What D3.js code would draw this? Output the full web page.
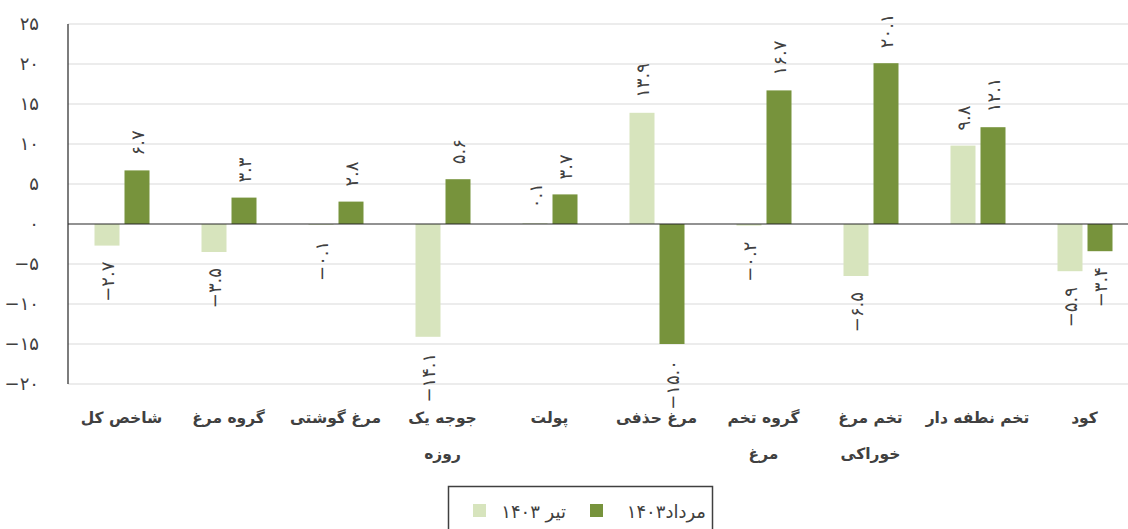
<!DOCTYPE html>
<html>
<head>
<meta charset="utf-8">
<script src="https://cdn.jsdelivr.net/npm/d3@7"></script>
<style>
  html, body { margin: 0; padding: 0; background: #fff; }
  svg { display: block; }
</style>
</head>
<body>
<svg id="chart" width="1128" height="529"></svg>
<script>
// ---------- data ----------
const categories = ["شاخص کل", "گروه مرغ", "مرغ گوشتی", "جوجه یک روزه", "پولت", "مرغ حذفی", "گروه تخم مرغ", "تخم مرغ خوراکی", "تخم نطفه دار", "کود"];
const categoryLines = [["شاخص کل"], ["گروه مرغ"], ["مرغ گوشتی"], ["جوجه یک", "روزه"], ["پولت"], ["مرغ حذفی"], ["گروه تخم", "مرغ"], ["تخم مرغ", "خوراکی"], ["تخم نطفه دار"], ["کود"]];
const seriesNames = ["تیر ۱۴۰۳", "مرداد۱۴۰۳"];
const tir1403 = [-2.7, -3.5, -0.1, -14.1, 0.1, 13.9, -0.2, -6.5, 9.8, -5.9];
const mordad1403 = [6.7, 3.3, 2.8, 5.6, 3.7, -15.0, 16.7, 20.1, 12.1, -3.4];
const yTicks = [-20, -15, -10, -5, 0, 5, 10, 15, 20, 25];
const colors = ["#d7e4bd", "#77933c"];

// ---------- helpers ----------
const faDigits = "۰۱۲۳۴۵۶۷۸۹";
function toFa(str) { return String(str).replace(/[0-9]/g, d => faDigits[+d]).replace(/-/g, "−"); }

const svg = d3.select("#chart");
const pLeft = 68, pRight = 1138, pTop = 24, pBottom = 384;
const FONT = "'DejaVu Sans', sans-serif";

const y = d3.scaleLinear().domain([-20, 25]).range([pBottom, pTop]);
const x0 = d3.scaleBand().domain(categories).range([pLeft, pRight]).padding(0);
const bw = x0.bandwidth();
const x1 = d3.scaleBand().domain([0, 1]).range([bw / 2 - 27, bw / 2 + 28]).paddingInner(1 / 6);

// gridlines
svg.append("g").selectAll("line").data(yTicks.filter(t => t !== 0)).join("line")
  .attr("x1", pLeft).attr("x2", pRight)
  .attr("y1", d => y(d)).attr("y2", d => y(d))
  .attr("stroke", "#d9d9d9").attr("stroke-width", 1.2);

// y axis tick labels
const yAxis = d3.axisLeft(y).tickValues(yTicks).tickSize(0).tickPadding(29).tickFormat(d => toFa(d));
const gy = svg.append("g").attr("transform", `translate(${pLeft},0)`).call(yAxis);
gy.select(".domain").remove();
gy.selectAll("text").attr("font-family", FONT).attr("font-size", 18).attr("fill", "#404040");

// bars
const series = [tir1403, mordad1403];
const groups = svg.append("g").selectAll("g").data(categories).join("g")
  .attr("transform", d => `translate(${x0(d)},0)`);

groups.each(function (cat, i) {
  const g = d3.select(this);
  series.forEach((s, si) => {
    const v = s[i];
    g.append("rect")
      .attr("x", x1(si))
      .attr("width", x1.bandwidth())
      .attr("y", y(Math.max(0, v)))
      .attr("height", Math.abs(y(v) - y(0)))
      .attr("fill", colors[si]);
  });
});

// zero line & y axis line
svg.append("line").attr("x1", pLeft).attr("x2", pRight).attr("y1", y(0)).attr("y2", y(0))
  .attr("stroke", "#262626").attr("stroke-width", 1.2);
svg.append("line").attr("x1", pLeft).attr("x2", pLeft).attr("y1", pTop).attr("y2", pBottom)
  .attr("stroke", "#262626").attr("stroke-width", 1.2);

// data labels (rotated)
groups.each(function (cat, i) {
  const g = d3.select(this);
  series.forEach((s, si) => {
    const v = s[i];
    const cx = x1(si) + x1.bandwidth() / 2;
    const pos = v >= 0;
    const ly = pos ? y(v) - 15 : y(v) + 16;
    g.append("text")
      .attr("transform", `translate(${cx},${ly}) rotate(-90)`)
      .attr("text-anchor", pos ? "start" : "end")
      .attr("dominant-baseline", "central")
      .attr("font-family", FONT).attr("font-size", 18).attr("fill", "#404040")
      .text(toFa(v.toFixed(1)));
  });
});

// category labels
groups.each(function (cat, i) {
  const g = d3.select(this);
  const t = g.append("text").attr("text-anchor", "middle")
    .attr("font-family", FONT).attr("font-size", 15.5).attr("font-weight", "bold").attr("fill", "#404040");
  categoryLines[i].forEach((ln, li) => {
    t.append("tspan").attr("x", bw / 2).attr("y", 423 + li * 36).text(ln);
  });
});

// legend
const lg = svg.append("g");
lg.append("rect").attr("x", 448.5).attr("y", 486.5).attr("width", 264).attr("height", 50)
  .attr("fill", "#fff").attr("stroke", "#404040").attr("stroke-width", 1.5);
const legendItems = [
  { sx: 473, tx: 566, name: seriesNames[0], c: colors[0] },
  { sx: 590, tx: 706, name: seriesNames[1], c: colors[1] }
];
legendItems.forEach(it => {
  lg.append("rect").attr("x", it.sx).attr("y", 504).attr("width", 13).attr("height", 13).attr("fill", it.c);
  lg.append("text").attr("x", it.tx).attr("y", 511).attr("text-anchor", "end")
    .attr("dominant-baseline", "central")
    .attr("font-family", FONT).attr("font-size", 18).attr("fill", "#404040").text(it.name);
});
</script>
</body>
</html>
